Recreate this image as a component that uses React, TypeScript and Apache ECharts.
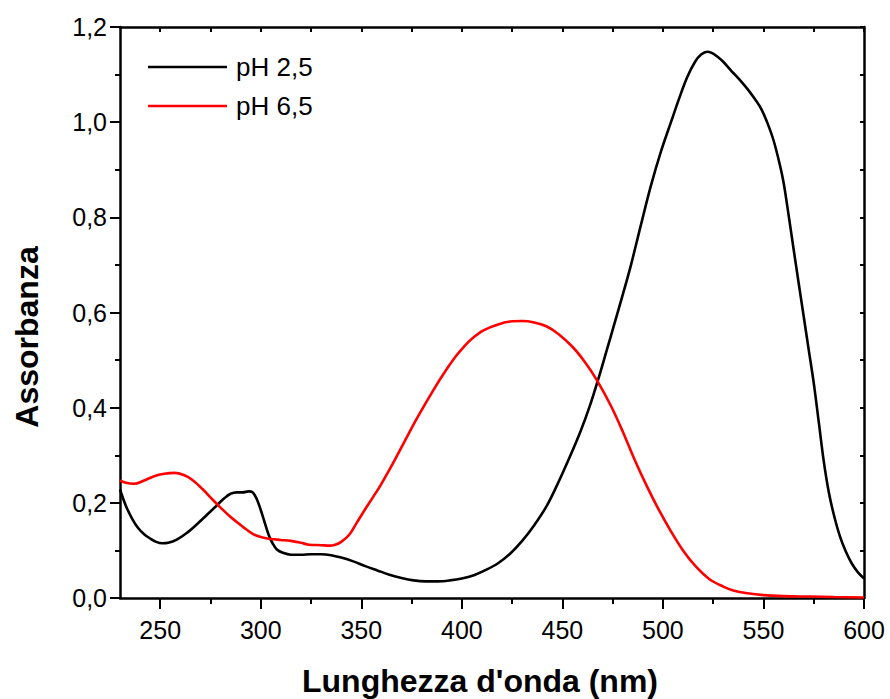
import React, { useEffect, useRef } from "react";
import * as echarts from "echarts";

// pH 2,5 spectrum (black)
const nmAcid = [
  230, 233, 236, 239, 242, 245, 248, 251, 254, 258, 263, 268, 273, 278, 282, 285, 288, 291, 294, 296,
  298, 300, 302, 304, 306, 308, 311, 315, 320, 325, 330, 335, 340, 346, 352, 358, 364, 370, 376, 382,
  388, 394, 400, 406, 412, 418, 424, 430, 436, 442, 447, 453, 459, 464, 468, 472, 476, 480, 484, 489,
  494, 499, 504, 508, 512, 516, 519, 522, 524, 527, 530, 534, 538, 542, 546, 549, 552, 555, 558, 560,
  562.5, 565, 567.5, 570, 572.5, 575, 577.5, 580, 582.5, 585, 588, 591, 594, 597, 600,
];
const absAcid = [
  0.228, 0.193, 0.167, 0.147, 0.134, 0.125, 0.118, 0.115, 0.116, 0.122, 0.136, 0.154, 0.174, 0.194, 0.21, 0.219, 0.222, 0.222, 0.224, 0.222,
  0.208, 0.185, 0.158, 0.132, 0.114, 0.102, 0.095, 0.091, 0.091, 0.092, 0.092, 0.09, 0.085, 0.077, 0.067, 0.058, 0.049, 0.042, 0.037, 0.035,
  0.035, 0.037, 0.041, 0.048, 0.059, 0.073, 0.093, 0.12, 0.153, 0.192, 0.234, 0.29, 0.35, 0.408, 0.462, 0.52, 0.578, 0.637, 0.698, 0.783,
  0.866, 0.938, 1.0, 1.049, 1.094, 1.127, 1.142, 1.148, 1.146, 1.138, 1.127, 1.108, 1.09, 1.07, 1.047, 1.027, 0.998, 0.962, 0.913, 0.873,
  0.805, 0.733, 0.662, 0.592, 0.522, 0.452, 0.37, 0.287, 0.222, 0.175, 0.13, 0.097, 0.072, 0.054, 0.041,
];

// pH 6,5 spectrum (red)
const nmBase = [
  230, 233, 237, 242, 247, 252, 257, 262, 266, 271, 276, 280, 285, 291, 296, 300, 305, 310, 315, 320,
  324, 330, 334, 337, 340, 344, 348, 352, 356, 360, 366, 372, 378, 386, 392, 397, 401, 405, 411, 418,
  424, 430, 436, 442, 448, 455, 461, 467, 474, 480, 486, 492, 498, 504, 510, 516, 523, 530, 535, 542,
  550, 560, 573, 585, 600,
];
const absBase = [
  0.247, 0.242, 0.24, 0.247, 0.256, 0.261, 0.263, 0.258, 0.248, 0.229, 0.207, 0.19, 0.17, 0.15, 0.135, 0.128, 0.124, 0.122, 0.12, 0.116,
  0.112, 0.111, 0.11, 0.112, 0.118, 0.133, 0.16, 0.187, 0.213, 0.24, 0.285, 0.333, 0.38, 0.438, 0.478, 0.508, 0.528, 0.545, 0.563, 0.575,
  0.581, 0.582, 0.579, 0.571, 0.555, 0.528, 0.497, 0.459, 0.405, 0.35, 0.29, 0.235, 0.185, 0.14, 0.1, 0.068, 0.04, 0.024, 0.016, 0.01,
  0.006, 0.004, 0.003, 0.002, 0.001,
];

const seriesNames = ["pH 2,5", "pH 6,5"];
const xMajorTicks = [250, 300, 350, 400, 450, 500, 550, 600];
const xMinorTicks = [275, 325, 375, 425, 475, 525, 575];
const xTopTicks = [250, 275, 300, 325, 350, 375, 400, 425, 450, 475, 500, 525, 550, 575, 600];
const xTitle = "Lunghezza d'onda (nm)";
const yTitle = "Assorbanza";

const FONT = "'Liberation Sans', Arial, sans-serif";

export default function App() {
  const ref = useRef<HTMLDivElement>(null);
  useEffect(() => {
    if (!ref.current) return;
    const chart = echarts.init(ref.current, undefined, { renderer: "svg" });
    const lineStyle = { color: "#000", width: 2.5 };
    const tickStyle = { color: "#000", width: 2 };
    const xBase = { type: "value", min: 230, max: 600, splitLine: { show: false } };
    const option: any = {
      animation: false,
      backgroundColor: "#fff",
      grid: { left: 120, right: 26, top: 27, bottom: 101 },
      legend: {
        orient: "vertical",
        left: 148,
        top: 54,
        padding: 0,
        icon: "rect",
        itemWidth: 79,
        itemHeight: 2.5,
        itemGap: 13,
        data: seriesNames,
        textStyle: { fontFamily: FONT, fontSize: 26, color: "#000", lineHeight: 24, padding: [0, 0, 0, 4] },
      },
      xAxis: [
        {
          ...xBase,
          position: "bottom",
          axisLine: { show: true, lineStyle },
          axisTick: { show: true, customValues: xMajorTicks, length: 11, lineStyle: tickStyle },
          axisLabel: {
            show: true,
            customValues: xMajorTicks,
            fontFamily: FONT,
            fontSize: 25,
            color: "#000",
            margin: 19,
          },
        },
        {
          ...xBase,
          position: "bottom",
          axisLine: { show: false },
          axisTick: { show: true, customValues: xMinorTicks, length: 6, lineStyle: tickStyle },
          axisLabel: { show: false },
        },
        {
          ...xBase,
          position: "top",
          axisLine: { show: true, lineStyle },
          axisTick: { show: true, customValues: xTopTicks, inside: true, length: 5, lineStyle: tickStyle },
          axisLabel: { show: false },
        },
      ],
      yAxis: [
        {
          type: "value",
          position: "left",
          min: 0,
          max: 1.2,
          interval: 0.2,
          splitLine: { show: false },
          axisLine: { show: true, lineStyle },
          axisTick: { show: true, length: 10, lineStyle: tickStyle },
          minorTick: { show: true, splitNumber: 2, length: 5, lineStyle: tickStyle },
          axisLabel: {
            fontFamily: FONT,
            fontSize: 25,
            color: "#000",
            margin: 13,
            formatter: (v: number) => v.toFixed(1).replace(".", ","),
          },
        },
        {
          type: "value",
          position: "right",
          min: 0,
          max: 1.2,
          interval: 0.1,
          splitLine: { show: false },
          axisLine: { show: true, lineStyle },
          axisTick: { show: true, inside: true, length: 4, lineStyle: tickStyle },
          axisLabel: { show: false },
        },
      ],
      series: [
        {
          name: seriesNames[0],
          type: "line",
          xAxisIndex: 0,
          yAxisIndex: 0,
          data: nmAcid.map((x, i) => [x, absAcid[i]]),
          showSymbol: false,
          smooth: 0.35,
          color: "#000000",
          lineStyle: { color: "#000000", width: 2.6 },
        },
        {
          name: seriesNames[1],
          type: "line",
          xAxisIndex: 0,
          yAxisIndex: 0,
          data: nmBase.map((x, i) => [x, absBase[i]]),
          showSymbol: false,
          smooth: 0.35,
          color: "#ff0000",
          lineStyle: { color: "#ff0000", width: 2.6 },
        },
      ],
      graphic: [
        {
          type: "text",
          x: 480,
          y: 681,
          style: {
            text: xTitle,
            font: `bold 32px ${FONT}`,
            fill: "#000",
            textAlign: "center",
            textVerticalAlign: "middle",
          },
        },
        {
          type: "text",
          x: 27,
          y: 337,
          rotation: Math.PI / 2,
          style: {
            text: yTitle,
            font: `bold 32px ${FONT}`,
            fill: "#000",
            textAlign: "center",
            textVerticalAlign: "middle",
          },
        },
      ],
    };
    chart.setOption(option);
    return () => chart.dispose();
  }, []);
  return (
    <div
      ref={ref}
      style={{ position: "fixed", left: 0, top: 0, width: 890, height: 699, background: "#fff" }}
    />
  );
}
